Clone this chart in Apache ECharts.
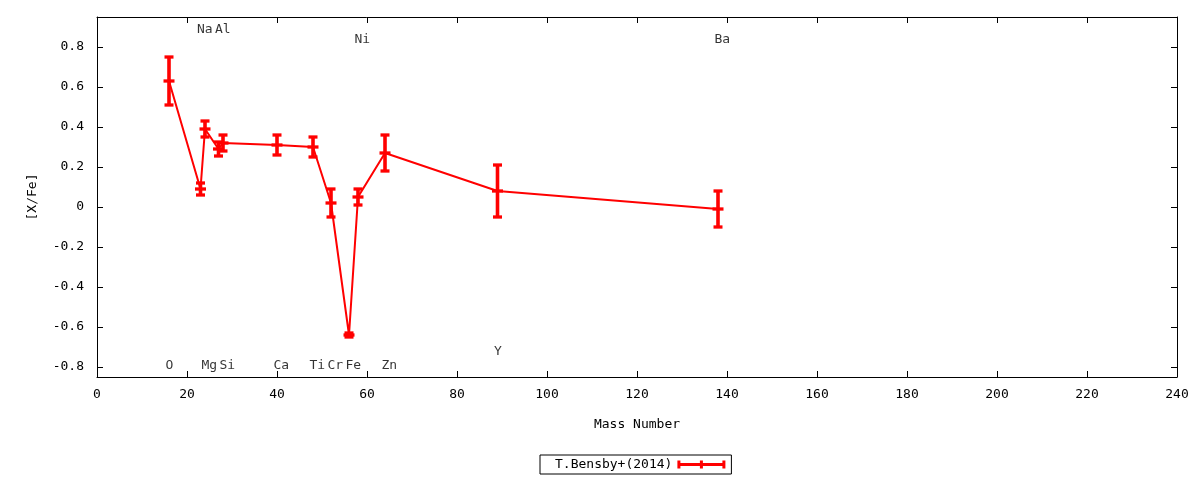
<!DOCTYPE html>
<html>
<head>
<meta charset="utf-8">
<script src="https://cdn.jsdelivr.net/npm/echarts@6/dist/echarts.min.js"></script>
<style>
  html, body { margin: 0; padding: 0; background: #fff; }
  #chart { width: 1200px; height: 480px; }
</style>
</head>
<body>
<div id="chart"></div>
<script>
// ---- data ----
const elements = ['O', 'Na', 'Mg', 'Al', 'Si', 'Ca', 'Ti', 'Cr', 'Fe', 'Ni', 'Zn', 'Y', 'Ba'];
const massNumber = [16, 23, 24, 27, 28, 40, 48, 52, 56, 58, 64, 89, 138];
const xFe = [0.63, 0.09, 0.39, 0.29, 0.32, 0.31, 0.30, 0.02, -0.64, 0.05, 0.27, 0.08, -0.01];
const xFeErr = [0.12, 0.03, 0.04, 0.035, 0.04, 0.05, 0.05, 0.07, 0.01, 0.04, 0.09, 0.13, 0.09];
const labelY = [-0.78, 0.9, -0.78, 0.9, -0.78, -0.78, -0.78, -0.78, -0.78, 0.85, -0.78, -0.71, 0.85];
const yTicks = [-0.8, -0.6, -0.4, -0.2, 0, 0.2, 0.4, 0.6, 0.8];
const seriesName = 'T.Bensby+(2014)';

const FONT = 'DejaVu Sans Mono';
const RED = '#ff0000';

const lineData = massNumber.map((m, i) => [m, xFe[i]]);
const errData = massNumber.map((m, i) => [m, xFe[i], xFeErr[i]]);
const labelData = massNumber.map((m, i) => ({ value: [m, labelY[i]], name: elements[i] }));

const chart = echarts.init(document.getElementById('chart'));

const axisCommon = {
  axisLine: { show: true, onZero: false, lineStyle: { color: '#000', width: 1 } },
  splitLine: { show: false }
};

chart.setOption({
  animation: false,
  backgroundColor: '#fff',
  textStyle: { fontFamily: FONT },
  grid: { left: 97, right: 23, top: 17, bottom: 103, containLabel: false },
  legend: {
    data: [{
      name: seriesName,
      icon: 'path://M0,3.5h48v3h-48z M0,1h3v8h-3z M45,1h3v8h-3z M22.5,1h3v8h-3z',
      itemStyle: { color: RED }
    }],
    left: 540,
    top: 455,
    align: 'right',
    itemWidth: 48,
    itemHeight: 10,
    padding: [3, 6, 3, 15],
    borderColor: '#000',
    borderWidth: 1,
    borderRadius: 0,
    selectedMode: false,
    textStyle: { fontFamily: FONT, fontSize: 13, color: '#000' }
  },
  xAxis: [{
    ...axisCommon,
    type: 'value',
    position: 'bottom',
    min: 0, max: 240, interval: 20,
    name: 'Mass Number',
    nameLocation: 'middle',
    nameGap: 41,
    nameTextStyle: { fontFamily: FONT, fontSize: 13, color: '#000' },
    axisTick: { show: true, inside: true, length: 6, lineStyle: { color: '#000' } },
    axisLabel: { margin: 11, fontFamily: FONT, fontSize: 13, color: '#000' }
  }, {
    ...axisCommon,
    type: 'value',
    position: 'top',
    min: 0, max: 240, interval: 20,
    axisTick: { show: true, inside: true, length: 6, lineStyle: { color: '#000' } },
    axisLabel: { show: false }
  }],
  yAxis: [{
    ...axisCommon,
    type: 'value',
    position: 'left',
    min: -0.85, max: 0.95,
    name: '[X/Fe]',
    nameLocation: 'middle',
    nameRotate: 90,
    nameGap: 58,
    nameTextStyle: { fontFamily: FONT, fontSize: 13, color: '#000' },
    axisTick: { show: true, inside: true, length: 6, customValues: yTicks, lineStyle: { color: '#000' } },
    axisLabel: { margin: 13, customValues: yTicks, fontFamily: FONT, fontSize: 13, color: '#000' }
  }, {
    ...axisCommon,
    type: 'value',
    position: 'right',
    min: -0.85, max: 0.95,
    axisTick: { show: true, inside: true, length: 6, customValues: yTicks, lineStyle: { color: '#000' } },
    axisLabel: { show: false }
  }],
  series: [{
    name: seriesName,
    type: 'line',
    xAxisIndex: 0, yAxisIndex: 0,
    data: lineData,
    symbol: 'none',
    lineStyle: { color: RED, width: 2 },
    itemStyle: { color: RED },
    z: 3
  }, {
    name: seriesName,
    type: 'custom',
    xAxisIndex: 0, yAxisIndex: 0,
    data: errData,
    z: 4,
    renderItem: function (params, api) {
      const x = api.value(0), y = api.value(1), e = api.value(2);
      const c = api.coord([x, y]);
      const t = api.coord([x, y + e]);
      const b = api.coord([x, y - e]);
      const st = { fill: RED };
      const capW = 9, cenW = 11, th = 3.3, vw = 3.6;
      return {
        type: 'group',
        children: [
          { type: 'rect', shape: { x: c[0] - vw / 2, y: t[1], width: vw, height: b[1] - t[1] }, style: st },
          { type: 'rect', shape: { x: c[0] - capW / 2, y: t[1] - th / 2, width: capW, height: th }, style: st },
          { type: 'rect', shape: { x: c[0] - capW / 2, y: b[1] - th / 2, width: capW, height: th }, style: st },
          { type: 'rect', shape: { x: c[0] - cenW / 2, y: c[1] - th / 2, width: cenW, height: th }, style: st }
        ]
      };
    }
  }, {
    name: 'labels',
    type: 'scatter',
    xAxisIndex: 0, yAxisIndex: 0,
    data: labelData,
    symbolSize: 1,
    itemStyle: { color: 'rgba(0,0,0,0)' },
    silent: true,
    z: 5,
    label: {
      show: true,
      position: 'inside',
      align: 'left',
      verticalAlign: 'middle',
      formatter: p => p.name,
      fontFamily: FONT,
      fontSize: 13,
      color: '#000'
    },
    labelLayout: { hideOverlap: false, dx: -3.5, dy: 2.5 },
    emphasis: { disabled: true }
  }]
});
</script>
</body>
</html>
